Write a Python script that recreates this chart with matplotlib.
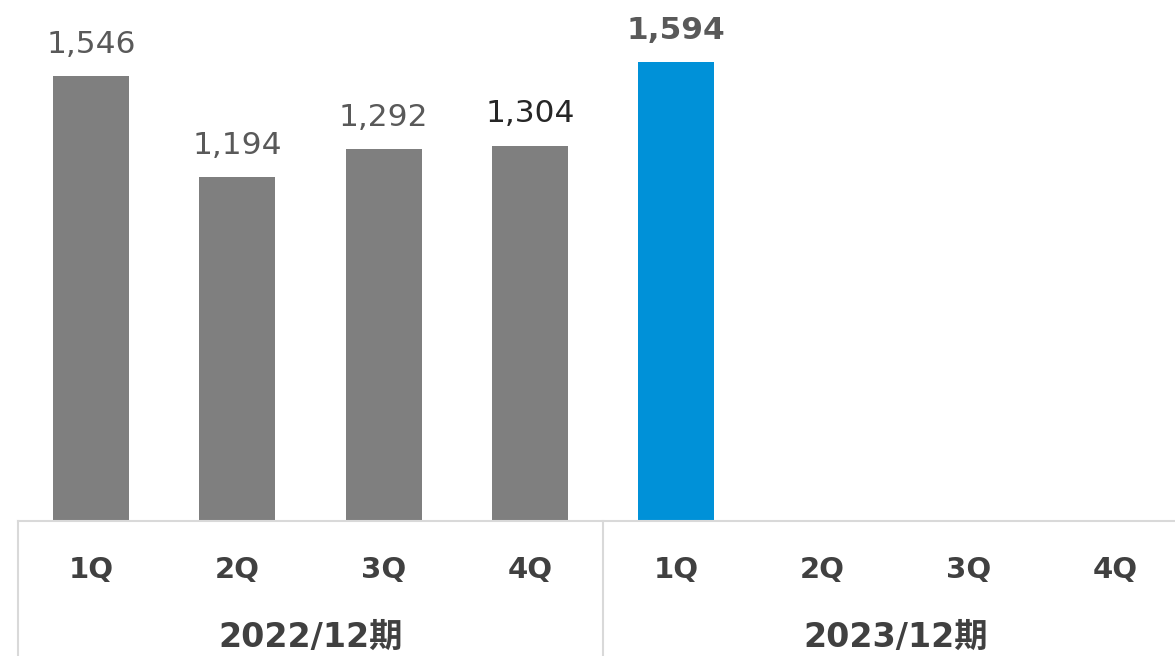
import matplotlib
matplotlib.use('Agg')
import matplotlib.pyplot as plt

# 四半期ごとの実績
quarters = ['1Q', '2Q', '3Q', '4Q']
periods = ['2022/12期', '2023/12期']
values_2022 = [1546, 1194, 1292, 1304]
values_2023 = [1594]

GRAY = '#7f7f7f'
BLUE = '#0091d8'
LINE = '#d9d9d9'
TEXT = '#404040'
FAMILY = ['DejaVu Sans', 'Noto Sans CJK JP']

fig = plt.figure(figsize=(11.75, 6.56), dpi=100)
# 右端は画像からはみ出す形で配置
ax = fig.add_axes([18 / 1175, 135 / 656, 8 * 146.3 / 1175, 521 / 656])

x_prev = list(range(len(values_2022)))
x_curr = [len(quarters) + i for i in range(len(values_2023))]

ax.bar(x_prev, values_2022, width=0.52, color=GRAY, zorder=2)
ax.bar(x_curr, values_2023, width=0.52, color=BLUE, zorder=2)

ax.set_xlim(-0.5, 2 * len(quarters) - 0.5)
ax.set_ylim(0, 1810)
ax.axis('off')

# データラベル
label_colors = ['#595959', '#595959', '#595959', '#262626']
for x, v, c in zip(x_prev, values_2022, label_colors):
    ax.annotate(f'{v:,}', (x, v), xytext=(0, 23), textcoords='offset points',
                ha='center', va='center', fontsize=22.5, color=c,
                family=FAMILY)
for x, v in zip(x_curr, values_2023):
    ax.annotate(f'{v:,}', (x, v), xytext=(0, 23), textcoords='offset points',
                ha='center', va='center', fontsize=22.5, color='#595959',
                fontweight='bold', family=FAMILY)

# 下部の表
trans = ax.get_xaxis_transform()
bottom = -140 / 521
ax.plot([-0.5, 7.5], [0, 0], color=LINE, lw=1.5, transform=trans, clip_on=False)
for xv in [-0.5, 3.5]:
    ax.plot([xv, xv], [0, bottom], color=LINE, lw=1.5, transform=trans, clip_on=False)

for g, period in enumerate(periods):
    for i, q in enumerate(quarters):
        ax.text(g * 4 + i, -0.094, q, transform=trans, ha='center', va='center',
                fontsize=21, fontweight='bold', color=TEXT, family=FAMILY)
    ax.text(g * 4 + 1.5, -0.2226, period, transform=trans, ha='center',
            va='center', fontsize=24, fontweight='bold', color=TEXT, family=FAMILY)

fig.savefig('out.png', dpi=100)
